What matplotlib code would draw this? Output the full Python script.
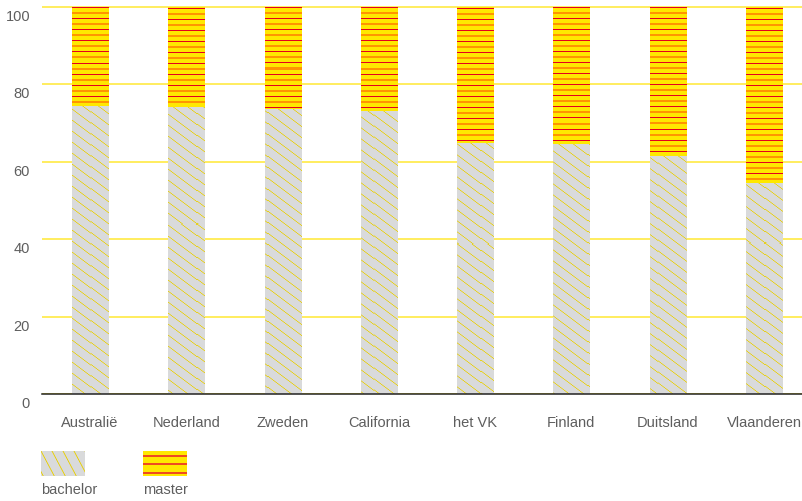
import numpy as np
import matplotlib
matplotlib.use('Agg')
import matplotlib.pyplot as plt
from matplotlib.colors import to_rgba
from matplotlib.transforms import ScaledTranslation

# ---------------- data ----------------
categories = ['Australië', 'Nederland', 'Zweden', 'California', 'het VK',
              'Finland', 'Duitsland', 'Vlaanderen']
bachelor = [74.4, 74.2, 73.6, 73.1, 64.9, 64.5, 61.4, 54.6]
master = [100 - b for b in bachelor]
yticks = [0, 20, 40, 60, 80, 100]
legend_labels = ['bachelor', 'master']

# ---------------- style ----------------
W, H, DPI = 803, 501, 100
GRAY = '#d9dadb'
YELLOW = '#ffe800'
HATCH_YEL = '#e9cf00'
RED = '#e5001e'
ORANGE = '#ff9500'
GRID = '#ffec52'
TXT = '#5e5e5e'
FONT = ['Liberation Sans', 'DejaVu Sans']
FS = 10.5

plt.rcParams['font.family'] = FONT

fig = plt.figure(figsize=(W / DPI, H / DPI), dpi=DPI)
PPU = 3.87              # pixels per y unit
L, R, B, T = 42, 803, 394, 5
YTOP = (B - T) / PPU
ax = fig.add_axes([L / W, 1 - B / H, (R - L) / W, (B - T) / H])
XL = (-0.4985, 7.405)

x = np.arange(len(categories))
bw = 0.374
bars_b = ax.bar(x, bachelor, width=bw, color=GRAY, linewidth=0, zorder=2)
bars_m = ax.bar(x, master, bottom=bachelor, width=bw, color=YELLOW,
                linewidth=0, zorder=2)

# ---------- textures (pixel-space patterns clipped to the bars) ----------
nrows = B - T
ncols = R - L
py = T + np.arange(nrows)[:, None] + 0.5
px = L + np.arange(ncols)[None, :] + 0.5

# bachelor: thin diagonal yellow lines on gray (opaque)
d = np.mod(py - 0.75 * px, 11.0)
dist = np.minimum(d, 11.0 - d)
a = np.clip(1.0 - dist / 0.9, 0, 1)[..., None]
tex_b = (1 - a) * np.array(to_rgba(GRAY)) + a * np.array(to_rgba(HATCH_YEL))

# master: red line + orange band on yellow (opaque)
ph = np.mod(np.floor(py) - 8, 11)
tex_m = np.tile(np.array(to_rgba(YELLOW)), (nrows, ncols, 1))
red_mask = np.broadcast_to(ph == 0, (nrows, ncols))
or_mask = np.broadcast_to((ph == 5) | (ph == 6), (nrows, ncols))
tex_m[red_mask] = to_rgba(RED)
tex_m[or_mask] = to_rgba(ORANGE)

for bars, tex in ((bars_b, tex_b), (bars_m, tex_m)):
    for p in bars.patches:
        im = ax.imshow(tex, extent=(XL[0], XL[1], 0, YTOP), origin='upper',
                       interpolation='nearest', aspect='auto', zorder=2.5)
        im.set_clip_path(p)

ax.set_xlim(*XL)
ax.set_ylim(0, YTOP)

# ---------- axes styling ----------
for s in ('left', 'right', 'top'):
    ax.spines[s].set_visible(False)
ax.spines['bottom'].set_color('#222222')
ax.spines['bottom'].set_linewidth(1.1)
ax.spines['bottom'].set_zorder(3)
ax.set_yticks(yticks)
ax.yaxis.grid(True, color=GRID, linewidth=1.3)
ax.set_axisbelow(True)
ax.tick_params(axis='both', length=0, labelsize=FS, labelcolor=TXT)
ax.tick_params(axis='y', pad=8.6)
ax.tick_params(axis='x', pad=15.5)
ax.set_xticks(x)
ax.set_xticklabels(categories)
off = ScaledTranslation(0, -3.0 / DPI, fig.dpi_scale_trans)
for lab in ax.get_yticklabels():
    lab.set_va('top')
    lab.set_transform(lab.get_transform() + off)

# ---------- legend ----------
def fig_axes(x0, y0, w, h):
    a_ = fig.add_axes([x0 / W, 1 - (y0 + h) / H, w / W, h / H])
    a_.set_axis_off()
    return a_

lh, lw_ = 25, 44
# bachelor swatch
la = fig_axes(41, 451, lw_, lh)
yy = np.arange(lh)[:, None] + 0.5
xx = np.arange(lw_)[None, :] + 0.5
dd = np.mod(xx - 0.53 * yy, 11.0)
dist = np.minimum(dd, 11.0 - dd)
aa = np.clip(1.0 - dist / 1.0, 0, 1)[..., None]
sw = (1 - aa) * np.array(to_rgba(GRAY)) + aa * np.array(to_rgba(HATCH_YEL))
la.imshow(sw, interpolation='nearest', aspect='auto')

# master swatch
lm = fig_axes(143, 451, lw_, lh)
sm = np.tile(np.array(to_rgba(YELLOW)), (lh, lw_, 1))
for r0 in (4, 12, 21):
    sm[r0:r0 + 2] = to_rgba('#ee4a22')
lm.imshow(sm, interpolation='nearest', aspect='auto')

fig.text(41 / W, 1 - 494 / H, legend_labels[0], fontsize=FS, color=TXT,
         ha='left', va='baseline')
fig.text(143 / W, 1 - 494 / H, legend_labels[1], fontsize=FS, color=TXT,
         ha='left', va='baseline')

fig.savefig('out.png', dpi=DPI)
